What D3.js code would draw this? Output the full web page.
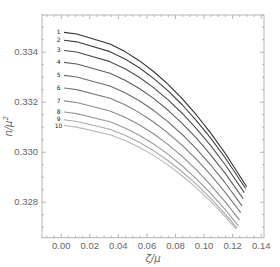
<!DOCTYPE html>
<html>
<head>
<meta charset="utf-8">
<script src="https://cdn.jsdelivr.net/npm/d3@7"></script>
<style>
  body { margin: 0; background: #fff; }
  svg { display: block; }
</style>
</head>
<body>
<script>
// zeta/mu sample points shared by all curves, last point differs per curve
var zetaGrid = [0.0023, 0.0112, 0.0345, 0.045, 0.055, 0.065, 0.075, 0.085, 0.095, 0.105, 0.115];
var zetaEnd = [0.1302, 0.1294, 0.1285, 0.1277, 0.1269, 0.1260, 0.1252, 0.1244, 0.1235, 0.1227];

// n/mu^2
var line1  = [0.334776, 0.334712, 0.334308, 0.334006, 0.333643, 0.333209, 0.332702, 0.332122, 0.331470, 0.330746, 0.329949, 0.328599];
var line2  = [0.334460, 0.334396, 0.334004, 0.333710, 0.333358, 0.332935, 0.332443, 0.331879, 0.331245, 0.330541, 0.329767, 0.328528];
var line3  = [0.334052, 0.333988, 0.333604, 0.333318, 0.332977, 0.332566, 0.332087, 0.331540, 0.330925, 0.330241, 0.329489, 0.328364];
var line4  = [0.333576, 0.333512, 0.333140, 0.332863, 0.332531, 0.332133, 0.331668, 0.331137, 0.330540, 0.329876, 0.329146, 0.328124];
var line5  = [0.333056, 0.332992, 0.332632, 0.332363, 0.332042, 0.331656, 0.331205, 0.330690, 0.330111, 0.329468, 0.328760, 0.327834];
var line6  = [0.332548, 0.332484, 0.332136, 0.331876, 0.331564, 0.331190, 0.330754, 0.330255, 0.329695, 0.329071, 0.328386, 0.327560];
var line7  = [0.332036, 0.331972, 0.331632, 0.331380, 0.331079, 0.330717, 0.330295, 0.329813, 0.329270, 0.328667, 0.328004, 0.327265];
var line8  = [0.331588, 0.331524, 0.331196, 0.330953, 0.330661, 0.330312, 0.329904, 0.329438, 0.328913, 0.328330, 0.327689, 0.327034];
var line9  = [0.331276, 0.331212, 0.330896, 0.330661, 0.330380, 0.330042, 0.329649, 0.329199, 0.328692, 0.328130, 0.327511, 0.326941];
var line10 = [0.331048, 0.330984, 0.330676, 0.330450, 0.330178, 0.329853, 0.329474, 0.329040, 0.328552, 0.328010, 0.327413, 0.326917];

var lineLabels = ["1", "2", "3", "4", "5", "6", "7", "8", "9", "10"];
var xTicks = [0.00, 0.02, 0.04, 0.06, 0.08, 0.10, 0.12, 0.14];
var yTicks = [0.328, 0.330, 0.332, 0.334];

function makePlot(){

    var lines = [line1, line2, line3, line4, line5, line6, line7, line8, line9, line10];

    const width = 280;
    const height = 267;
    const left = 42, right = 264, top = 15, bottom = 237.7;

    const x = d3.scaleLinear()
        .domain([-0.0131, 0.1423])
        .range([left, right]);

    const y = d3.scaleLinear()
        .domain([0.32656, 0.33547])
        .range([bottom, top]);

    const svg = d3.create("svg")
        .attr("width", width)
        .attr("height", height)
        .attr("viewBox", [0, 0, width, height])
        .style("font-family", "'DejaVu Sans', sans-serif");

    document.body.appendChild(svg.node());

    var frameColor = "#b4b4b4";
    var textColor = "#666";

    // minor ticks every 0.005 on x, every 0.0005 on y
    var xMinor = d3.range(-0.01, 0.1425, 0.005).filter(v => Math.abs(Math.round(v / 0.02) * 0.02 - v) > 1e-6);
    var yMinor = d3.range(0.3270, 0.3355, 0.0005).filter(v => Math.abs(Math.round(v / 0.002) * 0.002 - v) > 1e-7);

    function styleAxis(g) {
        g.select(".domain").remove();
        g.selectAll(".tick line").attr("stroke", frameColor);
        g.selectAll(".tick text").attr("fill", textColor).attr("font-size", 9.5);
    }

    // bottom
    svg.append("g")
        .attr("transform", `translate(0,${bottom})`)
        .call(d3.axisBottom(x).tickValues(xTicks).tickSize(-4).tickPadding(5).tickFormat(d3.format(".2f")))
        .call(styleAxis);
    svg.append("g")
        .attr("transform", `translate(0,${bottom})`)
        .call(d3.axisBottom(x).tickValues(xMinor).tickSize(-2).tickFormat(""))
        .call(styleAxis);
    // top
    svg.append("g")
        .attr("transform", `translate(0,${top})`)
        .call(d3.axisTop(x).tickValues(xTicks).tickSize(-4).tickFormat(""))
        .call(styleAxis);
    svg.append("g")
        .attr("transform", `translate(0,${top})`)
        .call(d3.axisTop(x).tickValues(xMinor).tickSize(-2).tickFormat(""))
        .call(styleAxis);
    // left
    svg.append("g")
        .attr("transform", `translate(${left},0)`)
        .call(d3.axisLeft(y).tickValues(yTicks).tickSize(-4).tickPadding(4).tickFormat(d3.format(".3f")))
        .call(styleAxis);
    svg.append("g")
        .attr("transform", `translate(${left},0)`)
        .call(d3.axisLeft(y).tickValues(yMinor).tickSize(-2).tickFormat(""))
        .call(styleAxis);
    // right
    svg.append("g")
        .attr("transform", `translate(${right},0)`)
        .call(d3.axisRight(y).tickValues(yTicks).tickSize(-4).tickFormat(""))
        .call(styleAxis);
    svg.append("g")
        .attr("transform", `translate(${right},0)`)
        .call(d3.axisRight(y).tickValues(yMinor).tickSize(-2).tickFormat(""))
        .call(styleAxis);

    // frame
    svg.append("rect")
        .attr("x", left)
        .attr("y", top)
        .attr("width", right - left)
        .attr("height", bottom - top)
        .attr("fill", "none")
        .attr("stroke", frameColor)
        .attr("stroke-width", 1);

    var grey = d3.scaleLinear().domain([0, 9]).range(["#303030", "#b8b8b8"]);

    var line = d3.line()
        .x(d => x(d[0]))
        .y(d => y(d[1]));

    svg.append("g")
        .attr("fill", "none")
        .attr("stroke-width", 1.1)
        .attr("stroke-linejoin", "round")
        .selectAll()
        .data(lines)
        .join("path")
        .attr("stroke", (d, i) => grey(i))
        .attr("d", (d, i) => line(d.map((v, j) => [j < zetaGrid.length ? zetaGrid[j] : zetaEnd[i], v])));

    // curve numbers (last two nudged apart a little, as in the original)
    svg.append("g")
        .selectAll()
        .data(lines)
        .join("text")
        .attr("x", x(-0.0015))
        .attr("y", (d, i) => y(d[0]) + (i === 8 ? -0.8 : i === 9 ? 0.8 : 0))
        .attr("dy", "0.33em")
        .attr("text-anchor", "middle")
        .attr("font-size", 6)
        .attr("fill", "#222")
        .text((d, i) => lineLabels[i]);

    // axis titles
    svg.append("text")
        .attr("x", (left + right) / 2)
        .attr("y", 262)
        .attr("text-anchor", "middle")
        .attr("font-size", 10)
        .attr("font-style", "italic")
        .attr("fill", textColor)
        .text("ζ/μ");

    var yt = svg.append("text")
        .attr("transform", `translate(12,${(top + bottom) / 2}) rotate(-90)`)
        .attr("text-anchor", "middle")
        .attr("font-size", 10)
        .attr("font-style", "italic")
        .attr("fill", textColor);
    yt.append("tspan").text("n/μ");
    yt.append("tspan").attr("dy", -4).attr("font-size", 7).text("2");

    return svg.node();
}

makePlot();
</script>
</body>
</html>
